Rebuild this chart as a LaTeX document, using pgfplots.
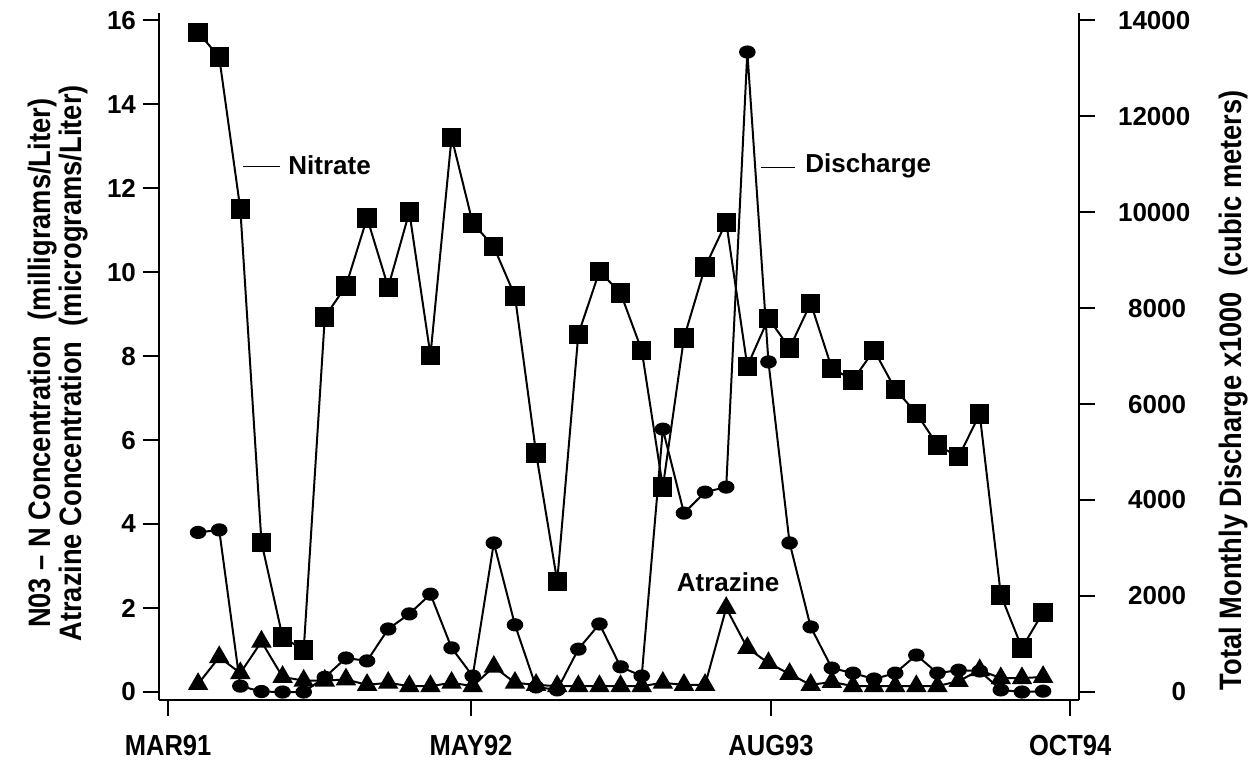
\documentclass[border=0pt]{standalone}
\usepackage{fontspec}
\setmainfont{Liberation Sans}
\newfontfamily\condfont[FakeStretch=0.88]{Liberation Sans}
\usepackage{pgfplots}
\pgfplotsset{compat=1.18}
\usepackage{pgfplotstable}

\pgfplotstableread{
x nit atr dis
0 15.71 0.19 3325
1 15.12 0.83 3378
2 11.50 0.45 123
3 3.57 1.20 10
4 1.31 0.36 0
5 1.00 0.27 0
6 8.93 0.27 306
7 9.67 0.30 709
8 11.29 0.17 648
9 9.64 0.22 1313
10 11.43 0.14 1628
11 8.02 0.14 2039
12 13.21 0.22 919
13 11.17 0.14 333
14 10.60 0.60 3106
15 9.43 0.22 1400
16 5.69 0.17 105
17 2.64 0.14 44
18 8.52 0.14 893
19 10.02 0.14 1418
20 9.50 0.14 525
21 8.14 0.14 333
22 4.88 0.22 5478
23 8.43 0.17 3728
24 10.12 0.17 4165
25 11.19 2.00 4270
26 7.76 1.05 13335
27 8.90 0.69 6878
28 8.19 0.43 3106
29 9.26 0.17 1356
30 7.71 0.24 499
31 7.43 0.14 394
32 8.14 0.14 271
33 7.21 0.14 394
34 6.64 0.14 770
35 5.88 0.14 394
36 5.60 0.26 455
37 6.62 0.52 438
38 2.31 0.33 44
39 1.05 0.33 0
40 1.90 0.36 18
}\data

\begin{document}
\begin{tikzpicture}
\begin{axis}[
  at={(0,0)}, anchor=south west, scale only axis,
  width=460pt, height=343.5pt,
  xmin=-1.85, xmax=41.70, ymin=-0.19, ymax=16.17,
  axis x line*=bottom, axis y line*=left,
  axis line style={line width=1pt},
  xtick={-1.42,12.92,27.12,41.28},
  xticklabels={MAR91,MAY92,AUG93,OCT94},
  ytick={0,2,...,16},
  tick align=outside, major tick length=8pt,
  tick style={line width=0.8pt, black},
  /pgf/number format/assume math mode=true,
  yticklabel style={font=\bfseries\fontsize{13}{13}\selectfont},
  xticklabel style={font=\condfont\bfseries\fontsize{14.5}{15}\selectfont, yshift=-6pt},
  clip=false,
]
\addplot[black, line width=1pt, mark=square*, mark size=4.3pt] table[x=x,y=nit]{\data};
\addplot[black, line width=1pt, mark=*, mark size=2.8pt, mark options={xscale=1.3, rotate=20}] table[x=x,y expr=\thisrow{dis}/875]{\data};
\addplot[black, line width=1pt, mark=triangle*, mark size=4.9pt] table[x=x,y=atr]{\data};

\draw[black, line width=0.5pt] (axis cs:2.13,12.52) -- (axis cs:3.88,12.52);
\node[anchor=west, inner sep=0pt, font=\bfseries\fontsize{13}{13}\selectfont] at (axis cs:4.26,12.55) {Nitrate};
\draw[black, line width=0.5pt] (axis cs:26.65,12.5) -- (axis cs:28.26,12.5);
\node[anchor=west, inner sep=0pt, font=\bfseries\fontsize{13}{13}\selectfont] at (axis cs:28.73,12.53) {Discharge};
\node[inner sep=0pt, font=\bfseries\fontsize{13}{13}\selectfont] at (axis cs:25.09,2.62) {Atrazine};

\node[rotate=90, align=center, font=\condfont\bfseries\fontsize{15.5}{15.5}\selectfont] at (axis description cs:-0.1098,0.49)
  {N03 – N Concentration\ \ (milligrams/Liter)\\Atrazine Concentration\ \ (micrograms/Liter)};
\node[rotate=90, font=\condfont\bfseries\fontsize{15.5}{16.5}\selectfont] at (axis description cs:1.1685,0.451)
  {Total Monthly Discharge x1000\ \ (cubic meters)};
\end{axis}

\begin{axis}[
  at={(0,0)}, anchor=south west, scale only axis,
  width=460pt, height=343.5pt,
  xmin=-1.85, xmax=41.70, ymin=-166.25, ymax=14149,
  axis x line=none, axis y line*=right,
  axis line style={line width=1pt},
  ytick={0,2000,...,14000},
  scaled y ticks=false,
  tick align=outside, major tick length=8pt,
  tick style={line width=0.8pt, black},
  /pgf/number format/assume math mode=true,
  /pgf/number format/set thousands separator={},
  yticklabel style={font=\bfseries\fontsize{13}{13}\selectfont, text width=34pt, align=right, xshift=8pt},
]
\addplot[draw=none] coordinates {(0,0)};
\end{axis}

\pgfresetboundingbox
\path[use as bounding box] (-79.5pt,-32.5pt) rectangle (545.5pt,350pt);
\end{tikzpicture}
\end{document}
